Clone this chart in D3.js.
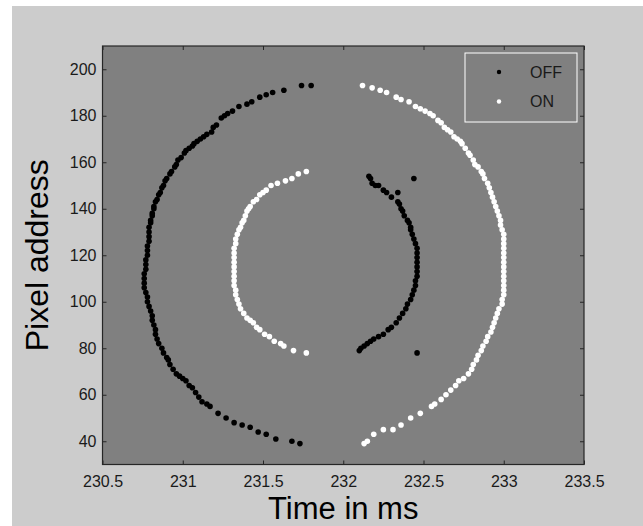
<!DOCTYPE html>
<html>
<head>
<meta charset="utf-8">
<script src="https://cdn.jsdelivr.net/npm/d3@7/dist/d3.min.js"></script>
<style>
  html, body { margin: 0; padding: 0; background: #ffffff; }
  svg { display: block; }
  text { font-family: Arial, "Liberation Sans", Helvetica, sans-serif; }
</style>
</head>
<body>
<svg id="chart" width="643" height="526"></svg>
<script>
// ---------------- data ----------------
const seriesNames = ["OFF", "ON"];
const xTickValues = [230.5, 231, 231.5, 232, 232.5, 233, 233.5];
const xTickLabels = ["230.5", "231", "231.5", "232", "232.5", "233", "233.5"];
const yTickValues = [40, 60, 80, 100, 120, 140, 160, 180, 200];
const yTickLabels = ["40", "60", "80", "100", "120", "140", "160", "180", "200"];
const xDomain = [230.5, 233.5];
const yDomain = [30, 210];

// OFF events, outer (left) arc  [time ms, pixel address]
const offOuter = [
  [231.80,193],[231.74,193],[231.63,191],[231.56,190],[231.52,189],[231.48,188],[231.43,186],[231.40,185],
  [231.35,184],[231.31,182],[231.28,181],[231.26,180],[231.24,179],[231.21,176],[231.19,175],[231.18,173],
  [231.15,172],[231.13,171],[231.11,170],[231.09,169],[231.07,168],[231.06,167],[231.04,166],[231.02,165],
  [231.01,164],[230.99,162],[230.97,161],[230.96,159],[230.95,158],[230.93,156],[230.92,155],[230.90,153],
  [230.89,152],[230.88,150],[230.87,149],[230.86,147],[230.85,146],[230.84,144],[230.83,143],[230.82,141],
  [230.82,140],[230.81,138],[230.81,137],[230.80,135],[230.80,134],[230.79,132],[230.79,130],[230.79,128],
  [230.79,126],[230.78,124],[230.78,122],[230.78,120],[230.77,118],[230.77,116],[230.77,114],[230.76,112],
  [230.76,110],[230.76,108],[230.76,106],[230.77,104],[230.78,102],[230.78,100],[230.79,98],[230.80,96],
  [230.81,94],[230.81,92],[230.82,90],[230.83,88],[230.83,86],[230.84,84],[230.85,82],[230.87,80],
  [230.88,78],[230.90,76],[230.91,75],[230.92,73],[230.94,71],[230.96,69],[230.98,68],[231.00,67],
  [231.02,66],[231.04,64],[231.06,63],[231.08,61],[231.10,59],[231.12,57],[231.15,56],[231.17,55],
  [231.22,52],[231.27,50],[231.32,48],[231.37,47],[231.42,46],[231.47,44],[231.52,43],[231.58,41],
  [231.68,40],[231.73,39]
];
// OFF events, inner (right) arc plus two isolated events
const offInner = [
  [232.16,154],[232.17,153],[232.18,151],[232.20,150],[232.22,150],[232.25,148],[232.27,147],[232.30,145],
  [232.34,147],[232.34,143],[232.35,142],[232.36,140],[232.37,139],[232.38,137],[232.40,135],[232.41,134],
  [232.42,132],[232.42,131],[232.43,129],[232.44,127],[232.45,125],[232.46,123],[232.46,121],[232.46,119],
  [232.46,117],[232.46,115],[232.46,113],[232.46,111],[232.45,109],[232.45,107],[232.44,105],[232.43,103],
  [232.42,101],[232.40,99],[232.39,97],[232.37,95],[232.35,93],[232.33,91],[232.30,89],[232.28,88],
  [232.25,86],[232.22,85],[232.19,84],[232.17,83],[232.15,82],[232.13,81],[232.11,80],[232.10,79],
  [232.44,153],[232.46,78]
];
// ON events, inner (left) arc
const onInner = [
  [231.77,156],[231.72,155],[231.68,153],[231.64,152],[231.59,151],[231.55,150],[231.52,148],[231.50,147],
  [231.48,146],[231.46,144],[231.44,143],[231.42,141],[231.41,140],[231.40,139],[231.39,137],[231.38,135],
  [231.37,134],[231.36,132],[231.35,131],[231.34,129],[231.33,127],[231.33,125],[231.32,123],[231.32,121],
  [231.32,119],[231.32,117],[231.32,115],[231.32,113],[231.32,111],[231.32,109],[231.32,107],[231.33,105],
  [231.33,103],[231.34,101],[231.35,99],[231.36,97],[231.38,95],[231.40,93],[231.42,92],[231.44,91],
  [231.46,89],[231.48,88],[231.51,86],[231.54,85],[231.57,83],[231.61,82],[231.63,81],[231.69,79],
  [231.77,78]
];
// ON events, outer (right) arc
const onOuter = [
  [232.12,193],[232.18,192],[232.23,191],[232.27,190],[232.33,188],[232.36,187],[232.41,186],[232.45,184],
  [232.48,183],[232.51,182],[232.54,181],[232.56,180],[232.59,178],[232.61,177],[232.63,175],[232.65,174],
  [232.67,173],[232.69,171],[232.71,170],[232.73,169],[232.74,168],[232.76,166],[232.78,164],[232.79,163],
  [232.81,161],[232.82,159],[232.84,158],[232.86,156],[232.87,155],[232.88,153],[232.90,151],[232.91,149],
  [232.92,147],[232.93,145],[232.94,143],[232.95,141],[232.96,139],[232.97,137],[232.98,135],[232.98,133],
  [232.99,131],[233.00,129],[233.00,127],[233.00,125],[233.00,123],[233.00,121],[233.00,119],[233.00,117],
  [233.00,115],[233.00,113],[233.00,111],[233.00,109],[233.00,107],[233.00,105],[233.00,103],[232.99,101],
  [232.99,99],[232.97,97],[232.96,95],[232.95,93],[232.94,91],[232.93,89],[232.92,87],[232.90,85],
  [232.89,83],[232.87,81],[232.86,79],[232.84,77],[232.83,75],[232.81,73],[232.80,71],[232.78,69],
  [232.75,67],[232.72,66],[232.70,64],[232.67,62],[232.64,60],[232.61,58],[232.57,56],[232.55,55],
  [232.48,52],[232.42,50],[232.36,47],[232.31,45],[232.25,45],[232.19,43],[232.15,40],[232.13,39]
];
const xLabel = "Time in ms";
const yLabel = "Pixel address";

// ---------------- layout ----------------
const W = 643, H = 526;
const plot = { left: 102.5, right: 584, top: 46, bottom: 464.5 };
const svg = d3.select("#chart");

// figure background (white strip at top/left, grey figure area)
svg.append("rect").attr("x", 0).attr("y", 0).attr("width", W).attr("height", H).attr("fill", "#ffffff");
svg.append("rect").attr("x", 12).attr("y", 6).attr("width", W - 12).attr("height", H - 6).attr("fill", "#cccccc");

const x = d3.scaleLinear().domain(xDomain).range([plot.left, plot.right]);
const y = d3.scaleLinear().domain(yDomain).range([plot.bottom, plot.top]);

// plot area
svg.append("rect")
  .attr("x", plot.left).attr("y", plot.top)
  .attr("width", plot.right - plot.left).attr("height", plot.bottom - plot.top)
  .attr("fill", "#808080");

// points
const series = [
  { name: "OFF", color: "#000000", data: offOuter.concat(offInner) },
  { name: "ON", color: "#ffffff", data: onInner.concat(onOuter) }
];
const g = svg.append("g");
series.forEach(s => {
  g.append("g").selectAll("circle").data(s.data).join("circle")
    .attr("cx", d => x(d[0])).attr("cy", d => y(d[1])).attr("r", 2.8)
    .attr("fill", s.color);
});

// axes (ticks point inwards, on all four sides)
const axisColor = "#262626";
function styleAxis(sel) {
  sel.select(".domain").remove();
  sel.selectAll("line").attr("stroke", axisColor).attr("stroke-width", 1);
  sel.selectAll("text").attr("fill", "#1a1a1a").style("font-size", "16px")
    .style("font-family", "Arial, 'Liberation Sans', Helvetica, sans-serif");
}
const xAxis = d3.axisBottom(x).tickValues(xTickValues)
  .tickFormat((d, i) => xTickLabels[i]).tickSizeInner(-4).tickSizeOuter(0).tickPadding(11);
svg.append("g").attr("transform", `translate(0,${plot.bottom})`).call(xAxis).call(styleAxis);

const xAxisTop = d3.axisTop(x).tickValues(xTickValues).tickFormat("").tickSizeInner(-4).tickSizeOuter(0);
svg.append("g").attr("transform", `translate(0,${plot.top})`).call(xAxisTop).call(styleAxis);

const yAxis = d3.axisLeft(y).tickValues(yTickValues)
  .tickFormat((d, i) => yTickLabels[i]).tickSizeInner(-4).tickSizeOuter(0).tickPadding(6);
svg.append("g").attr("transform", `translate(${plot.left},0)`).call(yAxis).call(styleAxis);

const yAxisRight = d3.axisRight(y).tickValues(yTickValues).tickFormat("").tickSizeInner(-4).tickSizeOuter(0);
svg.append("g").attr("transform", `translate(${plot.right},0)`).call(yAxisRight).call(styleAxis);

// frame
svg.append("rect")
  .attr("x", plot.left).attr("y", plot.top)
  .attr("width", plot.right - plot.left).attr("height", plot.bottom - plot.top)
  .attr("fill", "none").attr("stroke", axisColor).attr("stroke-width", 1.2);

// axis titles
svg.append("text")
  .attr("x", (plot.left + plot.right) / 2).attr("y", 519)
  .attr("text-anchor", "middle").style("font-size", "31px").attr("fill", "#000")
  .text(xLabel);
svg.append("text")
  .attr("transform", `translate(48,${(plot.top + plot.bottom) / 2}) rotate(-90)`)
  .attr("text-anchor", "middle").style("font-size", "32px").attr("fill", "#000")
  .text(yLabel);

// legend
const leg = { x: 465, y: 53, w: 112, h: 69 };
const lg = svg.append("g");
lg.append("rect").attr("x", leg.x).attr("y", leg.y).attr("width", leg.w).attr("height", leg.h)
  .attr("fill", "#808080").attr("stroke", "#ffffff").attr("stroke-width", 1);
series.forEach((s, i) => {
  const cy = 72 + i * 29.5;
  lg.append("circle").attr("cx", 499).attr("cy", cy).attr("r", 2.2).attr("fill", s.color);
  lg.append("text").attr("x", 530).attr("y", cy).attr("dy", "0.36em")
    .style("font-size", "16px").attr("fill", "#1a1a1a").text(s.name);
});
</script>
</body>
</html>
